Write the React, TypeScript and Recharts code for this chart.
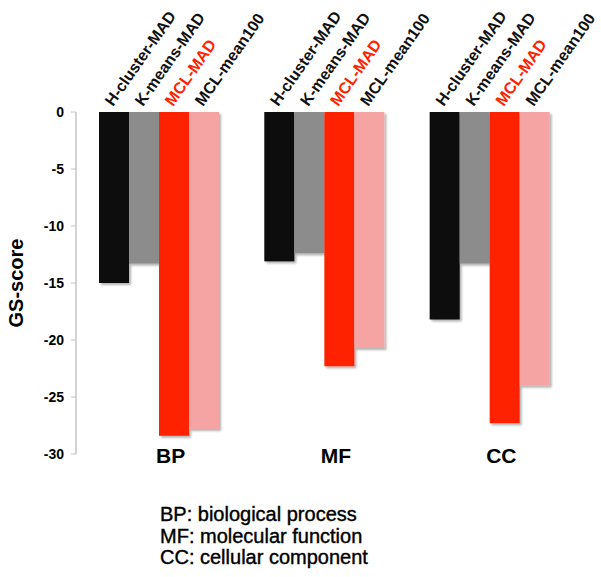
import { Bar, BarChart, LabelList, XAxis, YAxis, Label } from "recharts";

const categories = ["BP", "MF", "CC"];
const seriesNames = ["H-cluster-MAD", "K-means-MAD", "MCL-MAD", "MCL-mean100"];
const hclusterMad = [-15.0, -13.1, -18.2];
const kmeansMad = [-13.3, -12.4, -13.3];
const mclMad = [-28.4, -22.3, -27.3];
const mclMean100 = [-27.8, -20.7, -24.0];
const yTicks = [0, -5, -10, -15, -20, -25, -30];
const footnotes = ["BP: biological process", "MF: molecular function", "CC: cellular component"];

const seriesColors = ["#0a0a0a", "#8c8c8c", "#ff2200", "#f5a3a3"];
const labelColors = ["#111", "#111", "#ff2200", "#111"];
const FONT = '"Liberation Sans", Arial, Helvetica, sans-serif';

const data = categories.map((c, i) => ({
  cat: c,
  s0: hclusterMad[i],
  s1: kmeansMad[i],
  s2: mclMad[i],
  s3: mclMean100[i],
}));

function ShadowBar(props: any) {
  const { x, y, width, height, fill } = props;
  const top = Math.min(y, y + height);
  const h = Math.abs(height);
  return <rect x={x} y={top} width={width} height={h} fill={fill} filter="url(#barShadow)" />;
}

function seriesLabel(name: string, color: string) {
  return (props: any) => {
    const { x, y, width, height } = props;
    const top = Math.min(Number(y), Number(y) + Number(height));
    const tx = Number(x) + Number(width) / 2 - 1;
    const ty = top - 5;
    return (
      <text
        x={tx}
        y={ty}
        transform={`rotate(-55 ${tx} ${ty})`}
        textAnchor="start"
        fontFamily={FONT}
        fontSize={16}
        fontWeight="bold"
        fill={color}
      >
        {name}
      </text>
    );
  };
}

function CatTick(props: any) {
  const { x, y, payload } = props;
  return (
    <text x={x + 12} y={y + 9} textAnchor="middle" fontFamily={FONT} fontSize={21} fontWeight="bold" fill="#000">
      {payload.value}
    </text>
  );
}

export default function App() {
  return (
    <div style={{ position: "absolute", left: 0, top: 0, width: 601, height: 577, background: "#fff" }}>
      <BarChart
        width={601}
        height={577}
        data={data}
        margin={{ top: 112, right: 29, left: 0, bottom: 83 }}
        barGap={0}
        barSize={30}
      >
        <defs>
          <filter id="barShadow" x="-20%" y="-5%" width="150%" height="115%">
            <feDropShadow dx="2" dy="2" stdDeviation="1.2" floodColor="#000" floodOpacity="0.3" />
          </filter>
        </defs>
        <XAxis
          dataKey="cat"
          axisLine={false}
          tickLine={false}
          tickSize={0}
          tickMargin={0}
          height={40}
          tick={<CatTick />}
          interval={0}
        />
        <YAxis
          type="number"
          domain={[-30, 0]}
          ticks={yTicks}
          width={76}
          axisLine={{ stroke: "#c4c4c4", strokeWidth: 1.5 }}
          tickLine={{ stroke: "#c4c4c4" }}
          tickSize={5}
          tickMargin={7}
          tick={{ fill: "#000", fontSize: 14, fontWeight: "bold", fontFamily: FONT }}
        >
          <Label
            content={(p: any) => {
              const vb = p.viewBox || {};
              const cy = vb.y + vb.height / 2;
              const cx = 23;
              return (
                <text
                  x={cx}
                  y={cy}
                  transform={`rotate(-90 ${cx} ${cy})`}
                  textAnchor="middle"
                  fontFamily={FONT}
                  fontSize={20}
                  fontWeight="bold"
                  fill="#000"
                >
                  GS-score
                </text>
              );
            }}
          />
        </YAxis>
        {["s0", "s1", "s2", "s3"].map((k, i) => (
          <Bar key={k} dataKey={k} fill={seriesColors[i]} shape={<ShadowBar />} isAnimationActive={false}>
            <LabelList dataKey={k} content={seriesLabel(seriesNames[i], labelColors[i])} />
          </Bar>
        ))}
      </BarChart>
      <div
        style={{
          position: "absolute",
          left: 160,
          top: 504,
          fontFamily: FONT,
          fontSize: 20,
          lineHeight: "21.5px",
          color: "#000",
          WebkitTextStroke: "0.4px #000",
        }}
      >
        {footnotes.map((f) => (
          <div key={f}>{f}</div>
        ))}
      </div>
    </div>
  );
}
